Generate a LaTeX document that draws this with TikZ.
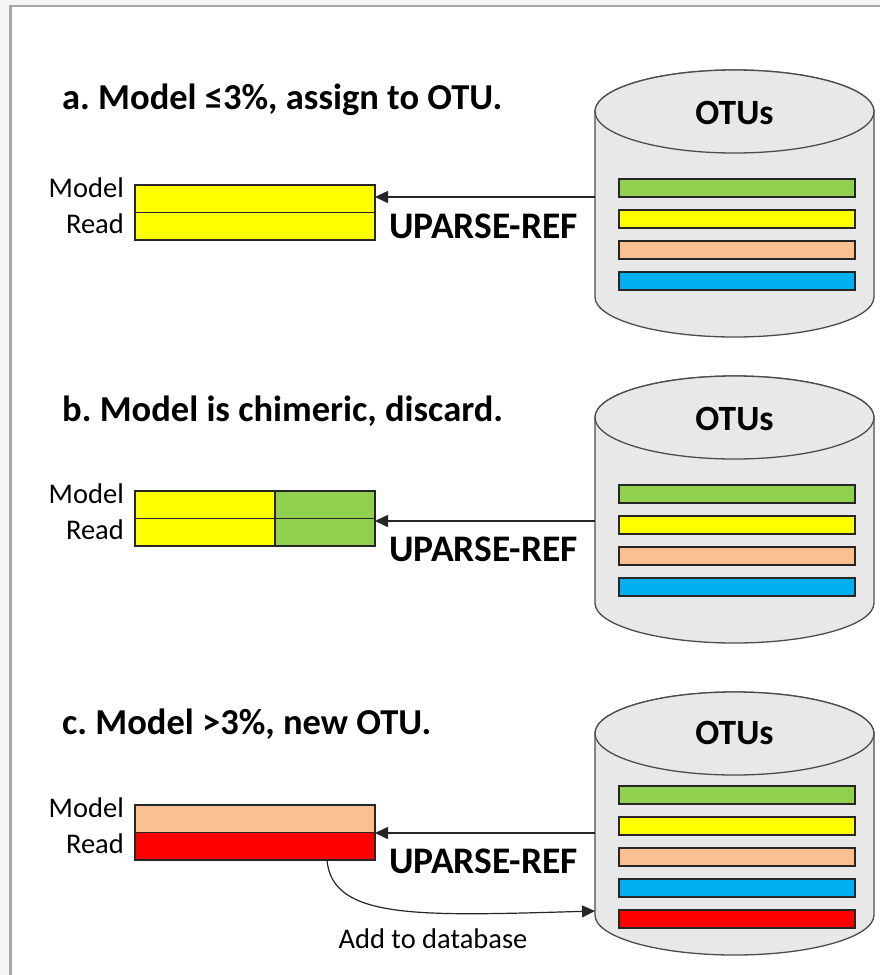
\documentclass[tikz,border=0pt]{standalone}
\usepackage{fontspec}
\setmainfont{Carlito}
\usepackage{xcolor}
\usetikzlibrary{arrows.meta, positioning}
\frenchspacing

\definecolor{otugreen}{HTML}{92D050}
\definecolor{otuyellow}{HTML}{FFFF00}
\definecolor{otupeach}{HTML}{FAC090}
\definecolor{otublue}{HTML}{00B0F0}
\definecolor{otured}{HTML}{FF0000}
\definecolor{dbgray}{HTML}{E8E8E8}
\definecolor{framegray}{HTML}{A6A6A6}

\begin{document}
\begin{tikzpicture}[x=1pt, y=-1pt,
  row/.style={draw=black!85, line width=1.3pt, minimum height=27.5pt,
    inner sep=0pt, outer sep=0pt},
  db/.style={draw=black!70, line width=1.3pt, fill=dbgray},
  otubar/.style={draw=black!85, line width=1.8pt},
  refarrow/.style={draw=black!85, line width=1.5pt,
    -{Triangle[length=13pt, width=12pt]}},
  title/.style={font=\fontsize{36.5}{40}\selectfont\bfseries, anchor=base west,
    inner sep=0pt},
  reflabel/.style={font=\fontsize{37.5}{40}\selectfont\bfseries, anchor=base west,
    inner sep=0pt},
  dblabel/.style={font=\fontsize{35.5}{40}\selectfont\bfseries, inner sep=0pt},
  lbl/.style={font=\fontsize{28.5}{32}\selectfont, anchor=base east, inner sep=0pt}]

  % Frame
  \useasboundingbox (0,0) rectangle (880,975);
  \fill[gray!8] (0,0) rectangle (880,975);
  \fill[white] (11,7) rectangle (880,975);
  \draw[framegray, line width=2.5pt] (10.5,975) -- (10.5,6) -- (880,6);

  % a. assign to OTU
  \node[title] (titleA) at (62,109) {a. Model ≤3\%, assign to OTU.};
  \draw[db] (595,111.5) -- (595,297)
    arc[start angle=180, end angle=0, x radius=139.5, y radius=40]
    -- (874,111.5)
    arc[start angle=0, end angle=-180, x radius=139.5, y radius=41.5] -- cycle;
  \draw[db] (734.5,111.5) ellipse[x radius=139.5, y radius=41.5];
  \node[dblabel] (otusA) at (734.5,113) {OTUs};
  \draw[otubar, fill=otugreen]  (619,179) rectangle (855,197);
  \draw[otubar, fill=otuyellow] (619,210) rectangle (855,228);
  \draw[otubar, fill=otupeach]  (619,241) rectangle (855,259);
  \draw[otubar, fill=otublue]   (619,272) rectangle (855,290);

  \node[row, fill=otuyellow, minimum width=240pt] (modelA) at (255,198.75) {};
  \node[row, fill=otuyellow, minimum width=240pt, below=0pt of modelA] (readA) {};
  \node[lbl] (modelLabA) at (124,197) {Model};
  \node[lbl] (readLabA) at (124,233) {Read};
  \coordinate (dbA) at (595,197);
  \draw[refarrow] (dbA) -- (dbA -| modelA.east);
  \node[reflabel] (refA) at (389,238) {UPARSE-REF};

  % b. chimeric, discard
  \node[title] (titleB) at (62,421) {b. Model is chimeric, discard.};
  \draw[db] (595,417.5) -- (595,603)
    arc[start angle=180, end angle=0, x radius=139.5, y radius=40]
    -- (874,417.5)
    arc[start angle=0, end angle=-180, x radius=139.5, y radius=41.5] -- cycle;
  \draw[db] (734.5,417.5) ellipse[x radius=139.5, y radius=41.5];
  \node[dblabel] (otusB) at (734.5,419) {OTUs};
  \draw[otubar, fill=otugreen]  (619,485) rectangle (855,503);
  \draw[otubar, fill=otuyellow] (619,516) rectangle (855,534);
  \draw[otubar, fill=otupeach]  (619,547) rectangle (855,565);
  \draw[otubar, fill=otublue]   (619,578) rectangle (855,596);

  \node[row, fill=otuyellow, minimum width=140pt] (modelB) at (205,504.75) {};
  \node[row, fill=otugreen, minimum width=100pt, right=0pt of modelB] (modelBr) {};
  \node[row, fill=otuyellow, minimum width=140pt, below=0pt of modelB] (readB) {};
  \node[row, fill=otugreen, minimum width=100pt, right=0pt of readB] (readBr) {};
  \node[lbl] (modelLabB) at (124,503) {Model};
  \node[lbl] (readLabB) at (124,539) {Read};
  \coordinate (dbB) at (595,521);
  \draw[refarrow] (dbB) -- (dbB -| modelBr.east);
  \node[reflabel] (refB) at (389,561) {UPARSE-REF};

  % c. new OTU
  \node[title] (titleC) at (62,734) {c. Model >3\%, new OTU.};
  \draw[db] (595,733.5) -- (595,915)
    arc[start angle=180, end angle=0, x radius=139.5, y radius=40]
    -- (874,733.5)
    arc[start angle=0, end angle=-180, x radius=139.5, y radius=41.5] -- cycle;
  \draw[db] (734.5,733.5) ellipse[x radius=139.5, y radius=41.5];
  \node[dblabel] (otusC) at (734.5,733) {OTUs};
  \draw[otubar, fill=otugreen]  (619,786) rectangle (855,804);
  \draw[otubar, fill=otuyellow] (619,817) rectangle (855,835);
  \draw[otubar, fill=otupeach]  (619,848) rectangle (855,866);
  \draw[otubar, fill=otublue]   (619,879) rectangle (855,897);
  \draw[otubar, fill=otured]    (619,910) rectangle (855,928);

  \node[row, fill=otupeach, minimum width=240pt] (modelC) at (255,818.75) {};
  \node[row, fill=otured, minimum width=240pt, below=0pt of modelC] (readC) {};
  \node[lbl] (modelLabC) at (124,817) {Model};
  \node[lbl] (readLabC) at (124,853) {Read};
  \coordinate (dbC) at (595,833);
  \draw[refarrow] (dbC) -- (dbC -| modelC.east);
  \node[reflabel] (refC) at (389,873) {UPARSE-REF};

  % Add to database
  \coordinate (addFrom) at ([xshift=72pt]readC.south);
  \coordinate (dbAdd) at (595,911);
  \draw[refarrow, line width=1.2pt] (addFrom) .. controls (332,920) and (420,916) .. (dbAdd);
  \node[font=\fontsize{28.5}{32}\selectfont, inner sep=0pt] (addLab) at (433,939) {Add to database};
\end{tikzpicture}
\end{document}
